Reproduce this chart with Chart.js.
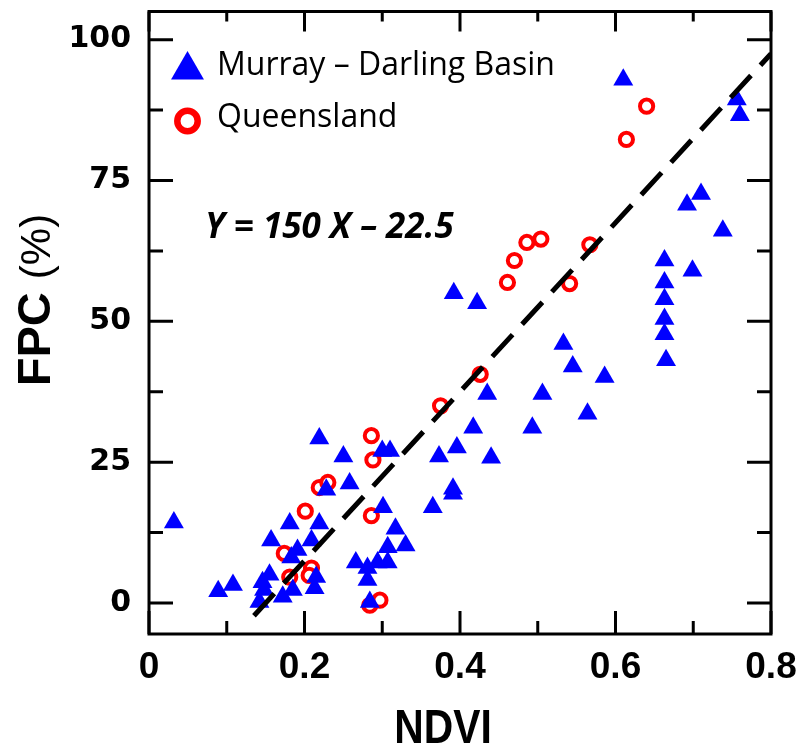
<!DOCTYPE html>
<html lang="en">
<head>
<meta charset="UTF-8" />
<title>FPC vs NDVI</title>
<script src="https://cdn.jsdelivr.net/npm/chart.js"></script>
<style>
  html, body { margin: 0; padding: 0; background: #fff; }
  #wrap { width: 796px; height: 748px; }
</style>
</head>
<body>
<div id="wrap"><canvas id="fpcChart" width="796" height="748"></canvas></div>
<script>
// Murray - Darling Basin (blue triangles)
const mdbNdvi = [0.032, 0.089, 0.108, 0.142, 0.146, 0.148, 0.155, 0.157, 0.172, 0.181,
  0.183, 0.185, 0.191, 0.209, 0.213, 0.215, 0.219, 0.219, 0.228, 0.250,
  0.258, 0.266, 0.281, 0.281, 0.284, 0.294, 0.301, 0.300, 0.310, 0.307,
  0.307, 0.317, 0.330, 0.365, 0.373, 0.391, 0.391, 0.392, 0.396, 0.417,
  0.422, 0.435, 0.440, 0.493, 0.506, 0.533, 0.545, 0.564, 0.586, 0.610,
  0.663, 0.663, 0.663, 0.663, 0.663, 0.665, 0.692, 0.699, 0.710, 0.738,
  0.756, 0.760];
const mdbFpc = [14.3, 2.1, 3.2, 0.2, 3.7, 2.3, 5.0, 11.1, 1.1, 14.1,
  8.1, 2.3, 9.4, 11.1, 2.6, 4.6, 14.1, 29.2, 20.1, 26.0,
  21.2, 7.2, 6.2, 4.1, 0.2, 7.2, 17.0, 27.0, 27.0, 7.2,
  9.9, 13.2, 10.2, 17.0, 26.0, 20.3, 19.4, 55.0, 27.6, 31.1,
  53.2, 37.1, 25.8, 31.1, 37.1, 46.0, 42.0, 33.6, 40.1, 92.9,
  60.8, 56.9, 53.9, 50.4, 47.7, 43.1, 70.7, 59.0, 72.6, 66.1,
  89.4, 86.6];

// Queensland (red open circles)
const qldNdvi = [0.174, 0.181, 0.209, 0.206, 0.201, 0.219, 0.230, 0.286, 0.288, 0.286,
  0.284, 0.297, 0.375, 0.426, 0.461, 0.470, 0.486, 0.504, 0.541, 0.567,
  0.614, 0.640];
const qldFpc = [8.8, 4.6, 6.2, 4.9, 16.3, 20.5, 21.4, 29.7, 25.4, 15.5,
  -0.4, 0.5, 35.0, 40.6, 56.9, 60.8, 64.0, 64.6, 56.7, 63.6,
  82.3, 88.2];

// fitted line Y = 150 X - 22.5
const fitNdvi = [0.135, 0.8];
const fitFpc = [-2.25, 97.5];

const xTicks = [0, 0.2, 0.4, 0.6, 0.8];
const xTickLabels = ["0", "0.2", "0.4", "0.6", "0.8"];
const yTicks = [0, 25, 50, 75, 100];
const yTickLabels = ["0", "25", "50", "75", "100"];
const seriesNames = ["Murray \u2013 Darling Basin", "Queensland"];
const equationText = "Y = 150 X \u2013 22.5";

const toPts = (xs, ys) => xs.map((x, i) => ({ x: x, y: ys[i] }));

// no extra room for overflowing tick labels, keep the plot box fixed
function fixBox(s, size) {
  if (s.isHorizontal()) s.height = size; else s.width = size;
  s.paddingTop = 0; s.paddingBottom = 0; s.paddingLeft = 0; s.paddingRight = 0;
}

// frame, inward ticks, titles, legend, equation
const decorPlugin = {
  id: "decor",
  afterDraw(chart) {
    const ctx = chart.ctx;
    const a = chart.chartArea;
    const xs = chart.scales.x;
    const ys = chart.scales.y;
    ctx.save();
    ctx.strokeStyle = "#000";
    ctx.lineWidth = 3;
    ctx.lineCap = "butt";
    ctx.strokeRect(a.left, a.top, a.right - a.left, a.bottom - a.top);

    // y ticks (major + halfway minor), both sides
    for (let i = 0; i < yTicks.length; i++) {
      const vals = [[yTicks[i], 24]];
      if (i < yTicks.length - 1) vals.push([(yTicks[i] + yTicks[i + 1]) / 2, 14]);
      vals.forEach(([v, len]) => {
        const py = ys.getPixelForValue(v);
        ctx.beginPath();
        ctx.moveTo(a.left, py); ctx.lineTo(a.left + len, py);
        ctx.moveTo(a.right, py); ctx.lineTo(a.right - len, py);
        ctx.stroke();
      });
    }
    // x ticks, bottom and top
    for (let i = 0; i < xTicks.length; i++) {
      const vals = [[xTicks[i], 23, 20]];
      if (i < xTicks.length - 1) vals.push([(xTicks[i] + xTicks[i + 1]) / 2, 13, 10]);
      vals.forEach(([v, lb, lt]) => {
        const px = xs.getPixelForValue(v);
        ctx.beginPath();
        ctx.moveTo(px, a.bottom); ctx.lineTo(px, a.bottom - lb);
        ctx.moveTo(px, a.top); ctx.lineTo(px, a.top + lt);
        ctx.stroke();
      });
    }

    // x title
    ctx.fillStyle = "#000";
    ctx.save();
    ctx.translate(443, 743);
    ctx.scale(0.85, 1);
    ctx.font = "bold 48px 'Liberation Sans', Arial, sans-serif";
    ctx.textAlign = "center";
    ctx.textBaseline = "alphabetic";
    ctx.fillText("NDVI", 0, 0);
    ctx.restore();

    // y title: bold FPC + regular (%)
    ctx.save();
    ctx.translate(50, 300);
    ctx.rotate(-Math.PI / 2);
    const fBold = "bold 47px 'Liberation Sans', Arial, sans-serif";
    const fReg = "42px 'Liberation Sans', Arial, sans-serif";
    ctx.font = fBold;
    const w1 = ctx.measureText("FPC ").width;
    ctx.font = fReg;
    const w2 = ctx.measureText("(%)").width;
    const sx = -(w1 + w2) / 2;
    ctx.textAlign = "left";
    ctx.textBaseline = "alphabetic";
    ctx.font = fBold;
    ctx.fillText("FPC ", sx, 0);
    ctx.font = fReg;
    ctx.fillText("(%)", sx + w1, 0);
    ctx.restore();

    // legend
    const r = 19;
    const tx = 187.5, ty = 70;
    ctx.fillStyle = "#0000ff";
    ctx.beginPath();
    ctx.moveTo(tx, ty - r);
    ctx.lineTo(tx + r * Math.sin(2 * Math.PI / 3), ty - r * Math.cos(2 * Math.PI / 3));
    ctx.lineTo(tx + r * Math.sin(4 * Math.PI / 3), ty - r * Math.cos(4 * Math.PI / 3));
    ctx.closePath();
    ctx.fill();
    ctx.strokeStyle = "#ff0000";
    ctx.lineWidth = 6.5;
    ctx.beginPath();
    ctx.arc(187.5, 121, 10.2, 0, Math.PI * 2);
    ctx.stroke();

    ctx.fillStyle = "#000";
    ctx.textAlign = "left";
    ctx.textBaseline = "alphabetic";
    ctx.font = "32px 'Open Sans', sans-serif";
    ctx.fillText(seriesNames[0], 217, 75);
    ctx.fillText(seriesNames[1], 217, 127);

    // equation
    ctx.font = "italic bold 35px 'Open Sans', sans-serif";
    ctx.fillText(equationText, 205, 238);
    ctx.restore();
  }
};

new Chart(document.getElementById("fpcChart"), {
  type: "scatter",
  data: {
    datasets: [
      {
        label: seriesNames[0],
        data: toPts(mdbNdvi, mdbFpc),
        pointStyle: "triangle",
        pointRadius: 11.5,
        pointHoverRadius: 11.5,
        backgroundColor: "#0000ff",
        borderColor: "#0000ff",
        borderWidth: 0,
        order: 1
      },
      {
        label: seriesNames[1],
        data: toPts(qldNdvi, qldFpc),
        pointStyle: "circle",
        pointRadius: 6.6,
        pointHoverRadius: 6.6,
        backgroundColor: "#ffffff",
        borderColor: "#ff0000",
        borderWidth: 4,
        order: 2
      },
      {
        type: "line",
        label: "fit",
        data: toPts(fitNdvi, fitFpc),
        borderColor: "#000000",
        borderWidth: 5,
        borderDash: [30, 14],
        pointRadius: 0,
        fill: false,
        order: 0
      }
    ]
  },
  options: {
    responsive: false,
    animation: false,
    devicePixelRatio: 1,
    layout: { padding: { top: 9, right: 25, left: 0, bottom: 0 } },
    plugins: { legend: { display: false }, tooltip: { enabled: false } },
    scales: {
      x: {
        type: "linear",
        min: 0,
        max: 0.8,
        afterBuildTicks: (s) => { s.ticks = xTicks.map((v) => ({ value: v })); },
        afterFit: (s) => fixBox(s, 114),
        grid: { display: false, drawTicks: false },
        border: { display: false },
        ticks: {
          padding: 12,
          color: "#000",
          maxRotation: 0,
          autoSkip: false,
          font: { family: "'Liberation Sans', Arial, sans-serif", weight: "bold", size: 37 },
          callback: (v) => xTickLabels[xTicks.indexOf(v)]
        }
      },
      y: {
        type: "linear",
        min: -5.5,
        max: 105,
        afterBuildTicks: (s) => { s.ticks = yTicks.map((v) => ({ value: v })); },
        afterFit: (s) => fixBox(s, 149),
        grid: { display: false, drawTicks: false },
        border: { display: false },
        ticks: {
          padding: 18,
          color: "#000",
          autoSkip: false,
          font: { family: "'DejaVu Sans', sans-serif", weight: "bold", size: 30 },
          callback: (v) => yTickLabels[yTicks.indexOf(v)]
        }
      }
    }
  },
  plugins: [decorPlugin]
});
</script>
</body>
</html>
